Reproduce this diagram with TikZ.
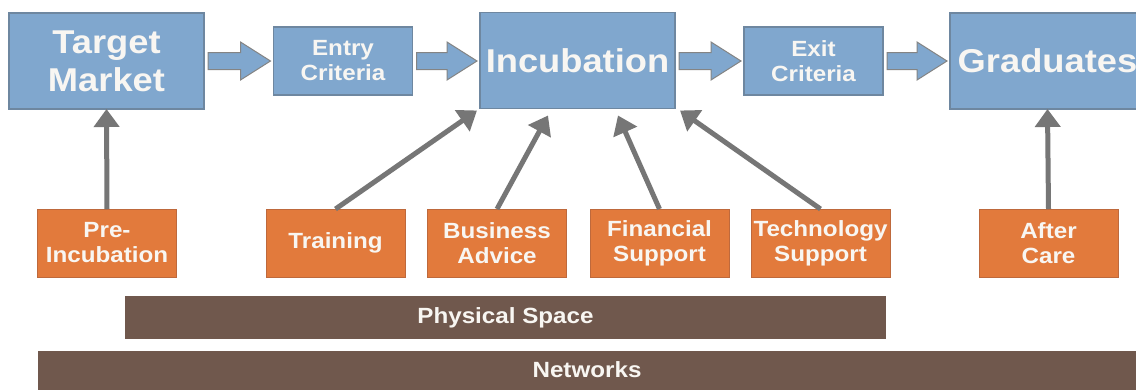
\documentclass[tikz,border=0pt]{standalone}
\usepackage{fontspec}
\setmainfont{Liberation Sans}[FakeStretch=1.1]
\usetikzlibrary{arrows.meta,calc}
\definecolor{bluebox}{RGB}{128,167,206}
\definecolor{blueedge}{RGB}{110,135,160}
\definecolor{orangebox}{RGB}{226,122,60}
\definecolor{orangeedge}{RGB}{190,105,60}
\definecolor{brownbar}{RGB}{112,88,77}
\definecolor{grayarrow}{RGB}{118,118,118}
\definecolor{txtw}{RGB}{248,246,242}
\begin{document}
\begin{tikzpicture}[x=1pt,y=-1pt,
  bigbox/.style={draw=blueedge,line width=1.2pt,fill=bluebox,inner sep=0pt,outer sep=0pt,
    minimum width=195pt,minimum height=96pt,text=txtw,align=center,
    font=\bfseries\fontsize{33}{38}\selectfont},
  critbox/.style={draw=blueedge,line width=1.2pt,fill=bluebox,inner sep=0pt,outer sep=0pt,
    minimum width=139pt,minimum height=68pt,text=txtw,align=center,
    font=\bfseries\fontsize{22}{25}\selectfont},
  servbox/.style={draw=orangeedge,line width=0.8pt,fill=orangebox,inner sep=0pt,outer sep=0pt,
    minimum width=139pt,minimum height=68pt,text=txtw,align=center,
    font=\bfseries\fontsize{22}{25}\selectfont},
  barbox/.style={fill=brownbar,inner sep=0pt,outer sep=0pt,text=txtw,
    font=\bfseries\fontsize{22}{25}\selectfont},
  feed/.style={draw=grayarrow,line width=5pt,-{Triangle[width=25pt,length=18pt]}},
  barrow/.style={draw=grayarrow!90,line width=1pt,fill=bluebox,line join=miter}
]
\useasboundingbox (0,0) rectangle (1136,389);
\fill[white] (0,0) rectangle (1136,389);

% main flow
\node[bigbox] (tm) at (106.5,61) {Target\\Market};
\node[critbox] (ec) at (343,61) {Entry\\Criteria};
\node[bigbox] (inc) at (577.5,60.5) {Incubation};
\node[critbox] (xc) at (813.5,61) {Exit\\Criteria};
\node[bigbox] (gr) at (1047.5,61) {Graduates};

% support services
\node[servbox] (pre) at (107,243) {Pre-\\Incubation};
\node[servbox] (tr) at (335.5,243) {Training};
\node[servbox] (ba) at (497,243) {Business\\Advice};
\node[servbox] (fs) at (659.5,243) {Financial\\Support};
\node[servbox] (ts) at (820.5,243) {Technology\\Support};
\node[servbox] (ac) at (1048.5,243) {After\\Care};

% bars
\node[barbox,minimum width=761pt,minimum height=43pt] (ps) at (505.5,317.5) {Physical Space};
\node[barbox,minimum width=1110pt,minimum height=40pt] (nw) at (593,371) {};
\node[text=txtw,font=\bfseries\fontsize{22}{25}\selectfont] (nwt) at (587,370) {Networks};

% block arrows between flow boxes
\foreach \a/\b in {tm/ec,ec/inc,inc/xc,xc/gr}{
  \draw[barrow] let \p1=(\a.east), \p2=(\b.west) in
    (\x1+4pt,61pt*-1+8.5pt) -- (\x2-33pt,61pt*-1+8.5pt) -- (\x2-33pt,61pt*-1+19pt)
    -- (\x2-3pt,61pt*-1) -- (\x2-33pt,61pt*-1-19pt) -- (\x2-33pt,61pt*-1-8.5pt)
    -- (\x1+4pt,61pt*-1-8.5pt) -- cycle;
}

% feed-in connectors
\coordinate (iTr) at ($(inc.south west)+(-3,2)$);
\coordinate (iBa) at ($(inc.south west)+(68,7)$);
\coordinate (iFs) at ($(inc.south west)+(138,7)$);
\coordinate (iTs) at ($(inc.south east)+(5,2)$);
\draw[feed] (pre.north) -- (tm.south);
\draw[feed] (tr.north) -- (iTr);
\draw[feed] (ba.north) -- (iBa);
\draw[feed] (fs.north) -- (iFs);
\draw[feed] (ts.north) -- (iTs);
\draw[feed] (ac.north) -- (gr.south);
\end{tikzpicture}
\end{document}
